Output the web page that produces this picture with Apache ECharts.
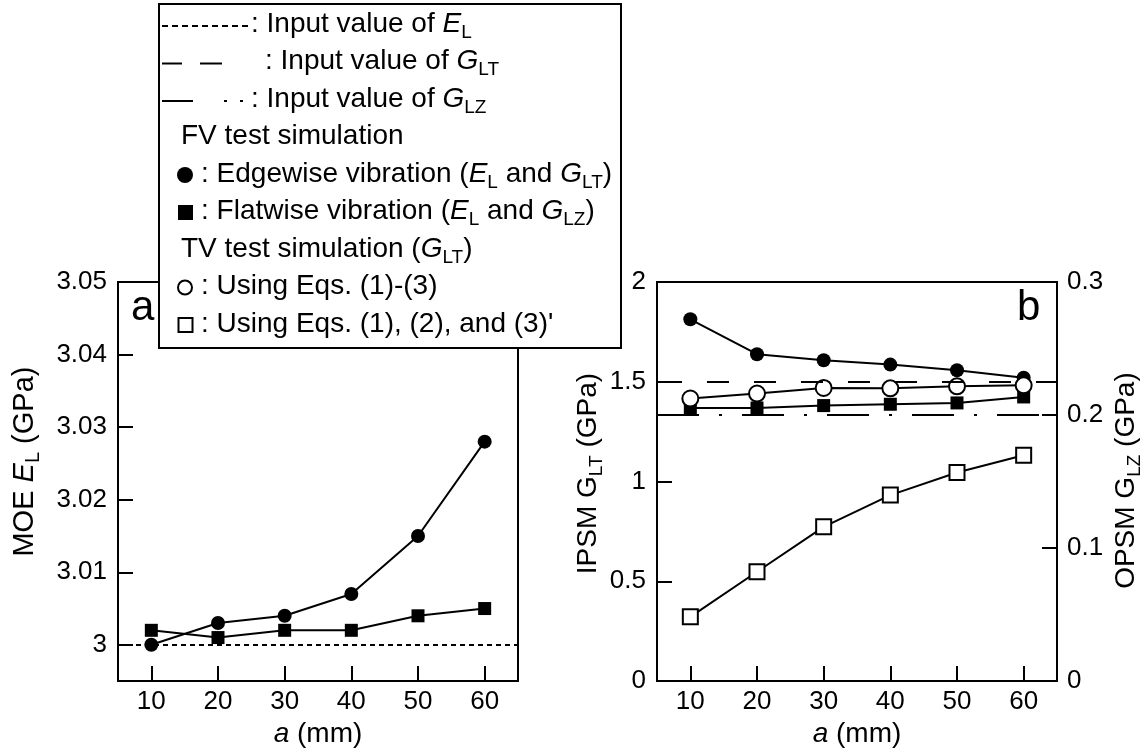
<!DOCTYPE html>
<html>
<head>
<meta charset="utf-8">
<script src="https://cdn.jsdelivr.net/npm/echarts@6/dist/echarts.min.js"></script>
<style>
  html, body { margin: 0; padding: 0; background: #fff; }
  #main { width: 1147px; height: 753px; }
</style>
</head>
<body>
<div id="main"></div>
<script>
// a (mm) on both panels
const aValues = [10, 20, 30, 40, 50, 60];
// panel a: MOE E_L (GPa)
const edgewiseEL = [3.000, 3.003, 3.004, 3.007, 3.015, 3.028];
const flatwiseEL = [3.002, 3.001, 3.002, 3.002, 3.004, 3.005];
// panel b: IPSM G_LT (GPa), left axis
const edgewiseGLT = [1.813, 1.638, 1.608, 1.586, 1.558, 1.52];
const tvGLT13 = [1.416, 1.441, 1.469, 1.467, 1.477, 1.482];
const tvGLT123p = [0.322, 0.548, 0.773, 0.932, 1.045, 1.132];
// panel b: OPSM G_LZ (GPa), right axis
const flatwiseGLZ = [0.2053, 0.2053, 0.2071, 0.2081, 0.2091, 0.2136];
// input values
const inputEL = 3.0;
const inputGLT = 1.5;
const inputGLZ = 0.2;
// tick labels
const xTicks = [10, 20, 30, 40, 50, 60];
const yTicksEL = [3, 3.01, 3.02, 3.03, 3.04, 3.05];

const F = '"Liberation Sans", Arial, sans-serif';
var chartDom = document.getElementById('main');
var myChart = echarts.init(chartDom, null, { renderer: 'canvas' });

function rich(fs) {
    return {
        n: { fontSize: fs, fontFamily: F, color: '#000' },
        i: { fontSize: fs, fontFamily: F, fontStyle: 'italic', color: '#000' },
        s: { fontSize: Math.round(fs * 0.68), fontFamily: F, color: '#000', padding: [Math.round(fs * 0.6), 0, 0, 0] }
    };
}

function pairs(ys) {
    return aValues.map((a, k) => [a, ys[k]]);
}

function xAxisFor(grid) {
    return {
        type: 'value', gridIndex: grid, min: 5, max: 65,
        axisLine: { show: true, lineStyle: { color: '#000', width: 2 } },
        axisTick: { show: true, inside: true, length: 15, lineStyle: { color: '#000', width: 2 }, customValues: xTicks },
        axisLabel: { fontSize: 26, fontFamily: F, color: '#000', margin: 8, customValues: xTicks },
        splitLine: { show: false },
        name: '{i|a}{n| (mm)}', nameLocation: 'middle', nameGap: 38,
        nameTextStyle: { fontSize: 28, fontFamily: F, color: '#000', rich: rich(28) }
    };
}

// shift moves the rotated name up the axis (positive) or down (negative)
function yName(text, fs, shift) {
    return {
        name: text,
        nameTextStyle: {
            fontSize: fs, fontFamily: F, color: '#000', rich: rich(fs),
            padding: shift > 0 ? [0, 0, 0, 2 * shift] : [0, -2 * shift, 0, 0]
        }
    };
}

function yAxisBase(extra) {
    let base = {
        type: 'value',
        axisLine: { show: true, lineStyle: { color: '#000', width: 2 } },
        axisTick: { show: true, inside: true, length: 15, lineStyle: { color: '#000', width: 2 } },
        axisLabel: { fontSize: 26, fontFamily: F, color: '#000', margin: 11 },
        splitLine: { show: false },
        nameLocation: 'middle', nameRotate: 90
    };
    return Object.assign(base, extra);
}

const blackLine = { color: '#000', width: 2 };

function dataSeries(x, y, ys, symbol, size, fill) {
    return {
        type: 'line', xAxisIndex: x, yAxisIndex: y, data: pairs(ys),
        symbol: symbol, symbolSize: size, showSymbol: true, z: 3,
        lineStyle: blackLine,
        itemStyle: { color: fill, borderColor: '#000', borderWidth: fill === '#fff' ? 2 : 0 },
        emphasis: { disabled: true }
    };
}

function refLine(x, y, value, dash, offset) {
    return {
        type: 'line', xAxisIndex: x, yAxisIndex: y, data: [], z: 1,
        markLine: {
            silent: true, symbol: ['none', 'none'], label: { show: false },
            lineStyle: { color: '#000', width: 2, type: dash, dashOffset: offset || 0 },
            data: [{ yAxis: value }]
        }
    };
}

// legend drawn as a boxed note above panel a
const rowY = [24, 61.5, 99, 136.5, 174, 211.5, 249, 286.5, 324];
function legendText(x, y, text) {
    return {
        type: 'text', x: x, y: y, z: 101,
        style: { text: text, rich: rich(28), font: '28px ' + F, fill: '#000', verticalAlign: 'middle', align: 'left' }
    };
}
function legendLine(x1, x2, y, dash) {
    return {
        type: 'line', z: 101,
        shape: { x1: x1, y1: y, x2: x2, y2: y },
        style: { stroke: '#000', lineWidth: 2, lineDash: dash || null }
    };
}

const legend = [
    { type: 'rect', z: 100, shape: { x: 159, y: 4, width: 462, height: 344 },
      style: { fill: '#fff', stroke: '#000', lineWidth: 2 } },
    legendLine(162, 251, rowY[0] + 2, [6, 4]),
    legendText(251, rowY[0], '{n|: Input value of }{i|E}{s|L}'),
    legendLine(162, 182, rowY[1] + 2),
    legendLine(200, 222, rowY[1] + 2),
    legendText(265, rowY[1], '{n|: Input value of }{i|G}{s|LT}'),
    legendLine(162, 193, rowY[2] + 2),
    legendLine(224, 227, rowY[2] + 2),
    legendLine(240, 243, rowY[2] + 2),
    legendText(251, rowY[2], '{n|: Input value of }{i|G}{s|LZ}'),
    legendText(181, rowY[3], '{n|FV test simulation}'),
    { type: 'circle', z: 101, shape: { cx: 185, cy: rowY[4] + 1, r: 8 }, style: { fill: '#000' } },
    legendText(201, rowY[4], '{n|: Edgewise vibration (}{i|E}{s|L}{n| and }{i|G}{s|LT}{n|)}'),
    { type: 'rect', z: 101, shape: { x: 178, y: rowY[5] - 6.5, width: 15, height: 15 }, style: { fill: '#000' } },
    legendText(201, rowY[5], '{n|: Flatwise vibration (}{i|E}{s|L}{n| and }{i|G}{s|LZ}{n|)}'),
    legendText(181, rowY[6], '{n|TV test simulation (}{i|G}{s|LT}{n|)}'),
    { type: 'circle', z: 101, shape: { cx: 185, cy: rowY[7] + 1, r: 7 }, style: { fill: '#fff', stroke: '#000', lineWidth: 2 } },
    legendText(201, rowY[7], '{n|: Using Eqs. (1)-(3)}'),
    { type: 'rect', z: 101, shape: { x: 178.5, y: rowY[8] - 6, width: 14, height: 14 }, style: { fill: '#fff', stroke: '#000', lineWidth: 2 } },
    legendText(201, rowY[8], "{n|: Using Eqs. (1), (2), and (3)'}"),
    { type: 'text', x: 131, y: 308, z: 50, style: { text: 'a', font: '42px ' + F, fill: '#000', verticalAlign: 'middle' } },
    { type: 'text', x: 1017, y: 308, z: 50, style: { text: 'b', font: '42px ' + F, fill: '#000', verticalAlign: 'middle' } }
];

var option = {
    animation: false,
    backgroundColor: '#fff',
    grid: [
        { left: 118, top: 282, width: 400, height: 400, show: true, borderColor: '#000', borderWidth: 2, backgroundColor: 'transparent' },
        { left: 657, top: 282, width: 400, height: 400, show: true, borderColor: '#000', borderWidth: 2, backgroundColor: 'transparent' }
    ],
    xAxis: [xAxisFor(0), xAxisFor(1)],
    yAxis: [
        yAxisBase(Object.assign({
            gridIndex: 0, min: 2.995, max: 3.05,
            axisTick: { show: true, inside: true, length: 15, lineStyle: { color: '#000', width: 2 }, customValues: yTicksEL },
            axisLabel: { fontSize: 26, fontFamily: F, color: '#000', margin: 11, customValues: yTicksEL },
            nameGap: 75
        }, yName('{n|MOE }{i|E}{s|L}{n| (GPa)}', 29, 20))),
        yAxisBase(Object.assign({
            gridIndex: 1, min: 0, max: 2, interval: 0.5, position: 'left',
            nameGap: 49
        }, yName('{n|IPSM G}{s|LT}{n| (GPa)}', 28, 8))),
        yAxisBase(Object.assign({
            gridIndex: 1, min: 0, max: 0.3, interval: 0.1, position: 'right',
            axisLabel: { fontSize: 26, fontFamily: F, color: '#000', margin: 10 },
            nameGap: 51
        }, yName('{n|OPSM G}{s|LZ}{n| (GPa)}', 28, 1)))
    ],
    graphic: legend,
    series: [
        refLine(0, 0, inputEL, [5, 4]),
        refLine(1, 1, inputGLT, [22, 25], 44),
        refLine(1, 2, inputGLZ, [42, 20, 3, 20], 0),
        dataSeries(0, 0, edgewiseEL, 'circle', 14, '#000'),
        dataSeries(0, 0, flatwiseEL, 'rect', 13, '#000'),
        dataSeries(1, 1, edgewiseGLT, 'circle', 14, '#000'),
        dataSeries(1, 2, flatwiseGLZ, 'rect', 13, '#000'),
        dataSeries(1, 1, tvGLT13, 'circle', 16, '#fff'),
        dataSeries(1, 1, tvGLT123p, 'rect', 15, '#fff')
    ]
};

option && myChart.setOption(option);
</script>
</body>
</html>
